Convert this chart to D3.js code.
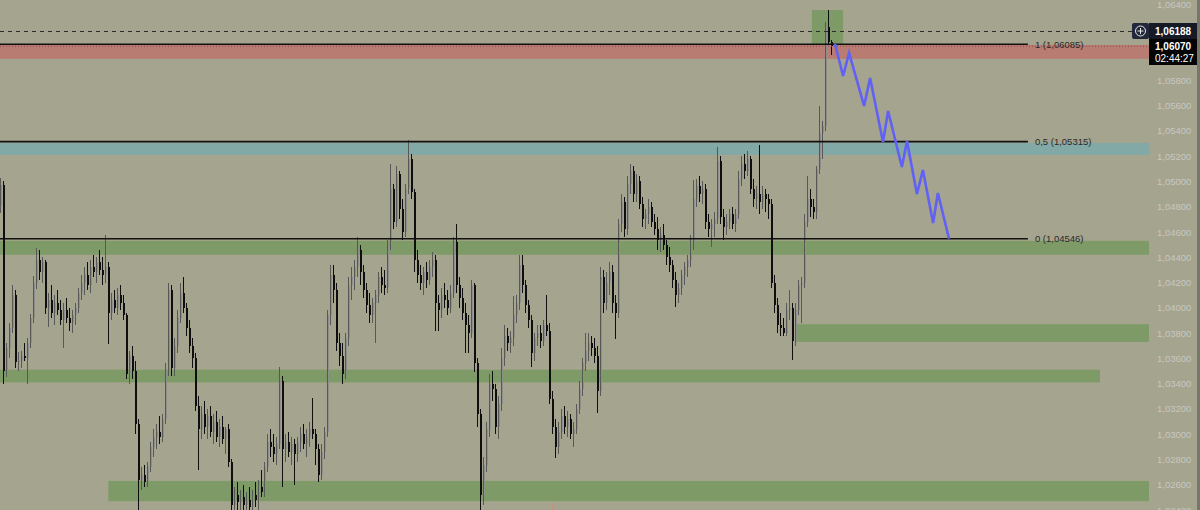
<!DOCTYPE html>
<html>
<head>
<meta charset="utf-8">
<script src="https://cdn.jsdelivr.net/npm/d3@7"></script>
<style>
  body { margin: 0; background: #a5a48e; }
  svg { display: block; }
</style>
</head>
<body>
<svg id="chart"></svg>
<script>
const WIDTH = 1200;
const HEIGHT = 510;
const PLOT_RIGHT = 1149;
const FONT = "'Liberation Sans', Arial, sans-serif";

const priceTicks = [1.064, 1.062, 1.060, 1.058, 1.056, 1.054, 1.052, 1.050, 1.048, 1.046, 1.044,
                    1.042, 1.040, 1.038, 1.036, 1.034, 1.032, 1.030, 1.028, 1.026, 1.024];

const opens = [
  1.0481,1.0497,1.0350,1.0368,1.0384,1.0410,1.0357,1.0358,1.0362,1.0360,
  1.0372,1.0392,1.0420,1.0438,1.0428,1.0436,1.0400,1.0406,1.0396,1.0404,
  1.0398,1.0390,1.0398,1.0392,1.0388,1.0394,1.0400,1.0412,1.0420,1.0426,
  1.0418,1.0432,1.0428,1.0436,1.0430,1.0426,1.0432,1.0396,1.0406,1.0400,
  1.0410,1.0404,1.0394,1.0348,1.0362,1.0350,1.0308,1.0264,1.0268,1.0262,
  1.0274,1.0290,1.0298,1.0302,1.0298,1.0312,1.0350,1.0414,1.0352,1.0370,
  1.0392,1.0412,1.0400,1.0384,1.0370,1.0360,1.0322,1.0304,1.0316,1.0306,
  1.0314,1.0302,1.0310,1.0298,1.0306,1.0296,1.0304,1.0278,1.0244,1.0252,
  1.0246,1.0250,1.0244,1.0248,1.0242,1.0252,1.0248,1.0258,1.0254,1.0274,
  1.0294,1.0290,1.0284,1.0292,1.0342,1.0288,1.0294,1.0286,1.0292,1.0284,
  1.0294,1.0300,1.0292,1.0298,1.0304,1.0300,1.0288,1.0268,1.0286,1.0302,
  1.0394,1.0426,1.0414,1.0372,1.0362,1.0348,1.0376,1.0418,1.0424,1.0432,
  1.0446,1.0428,1.0414,1.0402,1.0394,1.0404,1.0410,1.0424,1.0418,1.0416,
  1.0450,1.0494,1.0468,1.0506,1.0478,1.0460,1.0494,1.0518,1.0492,1.0438,
  1.0426,1.0420,1.0428,1.0422,1.0432,1.0438,1.0404,1.0398,1.0410,1.0406,
  1.0400,1.0412,1.0452,1.0418,1.0408,1.0396,1.0386,1.0380,1.0418,1.0356,
  1.0316,1.0252,1.0276,1.0304,1.0340,1.0336,1.0306,1.0324,1.0360,1.0378,
  1.0372,1.0376,1.0394,1.0404,1.0434,1.0418,1.0402,1.0390,1.0364,1.0376,
  1.0380,1.0374,1.0386,1.0382,1.0328,1.0306,1.0290,1.0302,1.0314,1.0306,
  1.0312,1.0300,1.0304,1.0320,1.0336,1.0356,1.0366,1.0372,1.0368,1.0362,
  1.0334,1.0424,1.0404,1.0420,1.0428,1.0404,1.0396,1.0466,1.0484,1.0462,
  1.0498,1.0508,1.0490,1.0500,1.0482,1.0470,1.0474,1.0480,1.0468,1.0462,
  1.0454,1.0458,1.0450,1.0440,1.0434,1.0422,1.0410,1.0416,1.0426,1.0432,
  1.0438,1.0452,1.0486,1.0496,1.0490,1.0494,1.0468,1.0462,1.0466,1.0470,
  1.0516,1.0472,1.0464,1.0468,1.0474,1.0466,1.0474,1.0502,1.0514,1.0508,
  1.0518,1.0494,1.0486,1.0490,1.0484,1.0490,1.0486,1.0482,1.0420,1.0402,
  1.0386,1.0384,1.0380,1.0398,1.0400,1.0374,1.0398,1.0418,1.0420,1.0468,
  1.0486,1.0480,1.0476,1.0510,1.0538,1.0544,1.0622,1.0610
];

const highs = [
  1.0503,1.0500,1.0372,1.0388,1.0418,1.0414,1.0365,1.0366,1.0372,1.0376,
  1.0395,1.0425,1.0447,1.0446,1.0440,1.0438,1.0412,1.0418,1.0410,1.0414,
  1.0406,1.0404,1.0408,1.0400,1.0398,1.0404,1.0416,1.0426,1.0432,1.0436,
  1.0438,1.0442,1.0440,1.0446,1.0440,1.0458,1.0436,1.0412,1.0414,1.0416,
  1.0418,1.0410,1.0396,1.0366,1.0370,1.0358,1.0312,1.0274,1.0276,1.0278,
  1.0294,1.0304,1.0308,1.0314,1.0316,1.0356,1.0420,1.0418,1.0376,1.0398,
  1.0420,1.0424,1.0404,1.0390,1.0376,1.0364,1.0330,1.0322,1.0326,1.0320,
  1.0322,1.0316,1.0318,1.0312,1.0314,1.0306,1.0308,1.0280,1.0258,1.0262,
  1.0256,1.0260,1.0254,1.0258,1.0256,1.0262,1.0264,1.0272,1.0278,1.0300,
  1.0304,1.0300,1.0298,1.0353,1.0346,1.0300,1.0302,1.0298,1.0296,1.0298,
  1.0306,1.0308,1.0304,1.0310,1.0329,1.0304,1.0292,1.0292,1.0306,1.0398,
  1.0434,1.0434,1.0420,1.0380,1.0372,1.0380,1.0424,1.0432,1.0438,1.0456,
  1.0450,1.0434,1.0420,1.0412,1.0408,1.0414,1.0428,1.0432,1.0430,1.0454,
  1.0514,1.0498,1.0512,1.0508,1.0486,1.0498,1.0533,1.0522,1.0494,1.0446,
  1.0434,1.0432,1.0436,1.0438,1.0444,1.0442,1.0410,1.0416,1.0420,1.0414,
  1.0418,1.0456,1.0466,1.0424,1.0416,1.0404,1.0394,1.0422,1.0420,1.0360,
  1.0320,1.0282,1.0310,1.0348,1.0350,1.0340,1.0330,1.0368,1.0386,1.0384,
  1.0382,1.0409,1.0410,1.0442,1.0442,1.0422,1.0406,1.0394,1.0380,1.0386,
  1.0386,1.0390,1.0410,1.0388,1.0334,1.0312,1.0310,1.0320,1.0322,1.0318,
  1.0316,1.0310,1.0324,1.0342,1.0360,1.0380,1.0380,1.0378,1.0376,1.0370,
  1.0432,1.0430,1.0428,1.0436,1.0434,1.0410,1.0470,1.0490,1.0488,1.0504,
  1.0514,1.0512,1.0506,1.0504,1.0488,1.0478,1.0486,1.0484,1.0474,1.0472,
  1.0464,1.0466,1.0454,1.0448,1.0438,1.0428,1.0420,1.0430,1.0436,1.0442,
  1.0458,1.0501,1.0502,1.0504,1.0500,1.0498,1.0474,1.0470,1.0476,1.0527,
  1.0520,1.0478,1.0474,1.0478,1.0480,1.0478,1.0508,1.0520,1.0522,1.0524,
  1.0520,1.0502,1.0496,1.0529,1.0496,1.0494,1.0490,1.0486,1.0426,1.0408,
  1.0396,1.0392,1.0404,1.0414,1.0404,1.0404,1.0422,1.0424,1.0474,1.0504,
  1.0494,1.0486,1.0512,1.0560,1.0548,1.0626,1.0636,1.0612
];

const lows = [
  1.0475,1.0340,1.0345,1.0360,1.0380,1.0352,1.0350,1.0352,1.0358,1.0340,
  1.0368,1.0388,1.0415,1.0422,1.0420,1.0395,1.0385,1.0392,1.0386,1.0394,
  1.0386,1.0368,1.0388,1.0382,1.0380,1.0386,1.0396,1.0406,1.0410,1.0414,
  1.0412,1.0424,1.0420,1.0426,1.0418,1.0420,1.0371,1.0390,1.0396,1.0394,
  1.0398,1.0390,1.0344,1.0340,1.0344,1.0300,1.0238,1.0256,1.0258,1.0258,
  1.0270,1.0282,1.0288,1.0292,1.0294,1.0308,1.0346,1.0346,1.0346,1.0364,
  1.0388,1.0396,1.0378,1.0364,1.0352,1.0318,1.0272,1.0296,1.0300,1.0296,
  1.0298,1.0292,1.0294,1.0290,1.0292,1.0284,1.0274,1.0236,1.0236,1.0240,
  1.0236,1.0240,1.0232,1.0238,1.0236,1.0242,1.0240,1.0250,1.0250,1.0270,
  1.0282,1.0278,1.0276,1.0288,1.0258,1.0278,1.0282,1.0276,1.0260,1.0278,
  1.0286,1.0288,1.0282,1.0290,1.0296,1.0276,1.0262,1.0264,1.0280,1.0298,
  1.0386,1.0404,1.0366,1.0354,1.0340,1.0344,1.0370,1.0406,1.0414,1.0424,
  1.0418,1.0408,1.0396,1.0388,1.0388,1.0372,1.0404,1.0412,1.0410,1.0412,
  1.0446,1.0462,1.0464,1.0470,1.0454,1.0456,1.0490,1.0486,1.0428,1.0420,
  1.0414,1.0410,1.0416,1.0418,1.0424,1.0382,1.0382,1.0392,1.0400,1.0394,
  1.0396,1.0408,1.0412,1.0400,1.0390,1.0364,1.0364,1.0376,1.0349,1.0306,
  1.0240,1.0244,1.0270,1.0298,1.0326,1.0300,1.0296,1.0318,1.0354,1.0366,
  1.0364,1.0370,1.0388,1.0398,1.0412,1.0396,1.0384,1.0353,1.0358,1.0370,
  1.0368,1.0370,1.0378,1.0324,1.0300,1.0281,1.0284,1.0296,1.0300,1.0298,
  1.0296,1.0290,1.0300,1.0316,1.0330,1.0350,1.0358,1.0362,1.0356,1.0317,
  1.0330,1.0396,1.0398,1.0410,1.0396,1.0375,1.0392,1.0460,1.0456,1.0458,
  1.0490,1.0484,1.0484,1.0478,1.0464,1.0462,1.0466,1.0464,1.0458,1.0446,
  1.0444,1.0446,1.0434,1.0428,1.0416,1.0401,1.0404,1.0410,1.0418,1.0424,
  1.0432,1.0446,1.0480,1.0484,1.0482,1.0462,1.0456,1.0448,1.0456,1.0466,
  1.0466,1.0454,1.0458,1.0462,1.0462,1.0460,1.0470,1.0496,1.0502,1.0504,
  1.0490,1.0480,1.0478,1.0474,1.0478,1.0476,1.0470,1.0416,1.0396,1.0380,
  1.0378,1.0378,1.0378,1.0390,1.0359,1.0370,1.0394,1.0388,1.0416,1.0464,
  1.0472,1.0470,1.0470,1.0506,1.0518,1.0540,1.0608,1.0600
];

const closes = [
  1.0497,1.0350,1.0368,1.0384,1.0410,1.0357,1.0358,1.0362,1.0360,1.0372,
  1.0392,1.0420,1.0438,1.0428,1.0436,1.0400,1.0406,1.0396,1.0404,1.0398,
  1.0390,1.0398,1.0392,1.0388,1.0394,1.0400,1.0412,1.0420,1.0426,1.0418,
  1.0432,1.0428,1.0436,1.0430,1.0426,1.0432,1.0396,1.0406,1.0400,1.0410,
  1.0404,1.0394,1.0348,1.0362,1.0350,1.0308,1.0264,1.0268,1.0262,1.0274,
  1.0290,1.0298,1.0302,1.0298,1.0312,1.0350,1.0414,1.0352,1.0370,1.0392,
  1.0412,1.0400,1.0384,1.0370,1.0360,1.0322,1.0304,1.0316,1.0306,1.0314,
  1.0302,1.0310,1.0298,1.0306,1.0296,1.0304,1.0278,1.0244,1.0252,1.0246,
  1.0250,1.0244,1.0248,1.0242,1.0252,1.0248,1.0258,1.0254,1.0274,1.0294,
  1.0290,1.0284,1.0292,1.0342,1.0288,1.0294,1.0286,1.0292,1.0284,1.0294,
  1.0300,1.0292,1.0298,1.0304,1.0300,1.0288,1.0268,1.0286,1.0302,1.0394,
  1.0426,1.0414,1.0372,1.0362,1.0348,1.0376,1.0418,1.0424,1.0432,1.0446,
  1.0428,1.0414,1.0402,1.0394,1.0404,1.0410,1.0424,1.0418,1.0416,1.0450,
  1.0494,1.0468,1.0506,1.0478,1.0460,1.0494,1.0518,1.0492,1.0438,1.0426,
  1.0420,1.0428,1.0422,1.0432,1.0438,1.0404,1.0398,1.0410,1.0406,1.0400,
  1.0412,1.0452,1.0418,1.0408,1.0396,1.0386,1.0380,1.0418,1.0356,1.0316,
  1.0252,1.0276,1.0304,1.0340,1.0336,1.0306,1.0324,1.0360,1.0378,1.0372,
  1.0376,1.0394,1.0404,1.0434,1.0418,1.0402,1.0390,1.0364,1.0376,1.0380,
  1.0374,1.0386,1.0382,1.0328,1.0306,1.0290,1.0302,1.0314,1.0306,1.0312,
  1.0300,1.0304,1.0320,1.0336,1.0356,1.0366,1.0372,1.0368,1.0362,1.0334,
  1.0424,1.0404,1.0420,1.0428,1.0404,1.0396,1.0466,1.0484,1.0462,1.0498,
  1.0508,1.0490,1.0500,1.0482,1.0470,1.0474,1.0480,1.0468,1.0462,1.0454,
  1.0458,1.0450,1.0440,1.0434,1.0422,1.0410,1.0416,1.0426,1.0432,1.0438,
  1.0452,1.0486,1.0496,1.0490,1.0494,1.0468,1.0462,1.0466,1.0470,1.0516,
  1.0472,1.0464,1.0468,1.0474,1.0466,1.0474,1.0502,1.0514,1.0508,1.0518,
  1.0494,1.0486,1.0490,1.0484,1.0490,1.0486,1.0482,1.0420,1.0402,1.0386,
  1.0384,1.0380,1.0398,1.0400,1.0374,1.0398,1.0418,1.0420,1.0468,1.0486,
  1.0480,1.0476,1.0510,1.0538,1.0544,1.0622,1.0610,1.0607
];

// fib retracement drawn over the last leg
const fibLevels = [1, 0.5, 0];
const fibPrices = [1.06085, 1.05315, 1.04546];
const fibEndBar = 342.3;

// zones: [low, high, fromBar, toBar]  (null = runs to the price scale)
const supplyZones = [[1.0597, 1.0608, -1, null]];
const midZones = [[1.0521, 1.05305, -1, null]];
const demandZones = [
  [1.0442, 1.0453, -1, null],
  [1.0373, 1.0387, 264.7, null],
  [1.0341, 1.0351, -1, 366.3],
  [1.0247, 1.0263, 35.8, null],
  [1.0608, 1.06356, 270.3, 280.7]
];

// projected path
const zigBars = [278, 280.7, 282.7, 287.7, 289.7, 294, 295.7, 300.3, 302, 305.3, 307.3, 310.7, 312.3, 316];
const zigPrices = [1.06087, 1.05834, 1.06016, 1.05597, 1.05818, 1.05312, 1.05557, 1.05114,
                   1.05320, 1.04900, 1.05090, 1.04671, 1.04908, 1.04546];

const dayHigh = 1.06188;
const lastPrice = 1.06070;
const countdown = "02:44:27";
const sessionMarks = [184];

const fmtPrice = v => d3.format(".5f")(v).replace(".", ",");

function main(){
    var svg = d3.select("#chart")
        .attr("width", WIDTH)
        .attr("height", HEIGHT)
        .style("font-family", FONT);

    var x = d3.scaleLinear().domain([0, 383]).range([1, 1150]);
    var y = d3.scaleLinear().domain([1.024, 1.064]).range([510, 4.5]);

    svg.append("rect").attr("width", WIDTH).attr("height", HEIGHT).attr("fill", "#a5a48e");

    var xEnd = d => d == null ? PLOT_RIGHT : x(d);
    var drawZones = (data, color) => {
        svg.append("g").selectAll("rect")
            .data(data)
            .join("rect")
            .attr("x", d => x(d[2]))
            .attr("width", d => xEnd(d[3]) - x(d[2]))
            .attr("y", d => y(d[1]))
            .attr("height", d => y(d[0]) - y(d[1]))
            .attr("fill", color);
    };
    drawZones(supplyZones, "#b87c73");
    drawZones(midZones, "#83a9a7");
    drawZones(demandZones, "#7e9a67");

    // candles: body first, wick on top so grey bodies get a dark edge
    var bars = closes.map((c, i) => ({i: i, o: opens[i], h: highs[i], l: lows[i], c: c}));
    var up = d => d.c >= d.o;
    var cg = svg.append("g").attr("shape-rendering", "crispEdges");
    cg.selectAll("rect.body")
        .data(bars)
        .join("rect")
        .attr("class", "body")
        .attr("x", d => x(d.i) - 1)
        .attr("width", 2)
        .attr("y", d => y(Math.max(d.o, d.c)))
        .attr("height", d => Math.max(1, Math.abs(y(d.o) - y(d.c))))
        .attr("fill", d => up(d) ? "#8e8e8e" : "#0e0e0e");
    cg.selectAll("rect.wick")
        .data(bars)
        .join("rect")
        .attr("class", "wick")
        .attr("x", d => x(d.i) - 1)
        .attr("width", 1)
        .attr("y", d => y(d.h))
        .attr("height", d => Math.max(1, y(d.l) - y(d.h)))
        .attr("fill", d => up(d) ? "#585858" : "#0e0e0e");

    // session marks
    svg.append("g").selectAll("line")
        .data(sessionMarks)
        .join("line")
        .attr("x1", d => x(d)).attr("x2", d => x(d))
        .attr("y1", 503).attr("y2", HEIGHT)
        .attr("stroke", "#e2806f").attr("stroke-width", 1);

    // last price dotted & high dashed
    svg.append("line")
        .attr("x1", 0).attr("x2", PLOT_RIGHT)
        .attr("y1", y(lastPrice)).attr("y2", y(lastPrice))
        .attr("stroke", "#8e4a48").attr("stroke-width", 1).attr("stroke-dasharray", "1,2");
    svg.append("line")
        .attr("x1", 0).attr("x2", 1132)
        .attr("y1", Math.round(y(dayHigh)) + 0.5).attr("y2", Math.round(y(dayHigh)) + 0.5)
        .attr("stroke", "#2b2b2b").attr("stroke-width", 1).attr("stroke-dasharray", "4,4");

    // fib lines
    var fg = svg.append("g");
    fg.selectAll("line")
        .data(fibPrices)
        .join("line")
        .attr("x1", 0).attr("x2", x(fibEndBar))
        .attr("y1", d => y(d)).attr("y2", d => y(d))
        .attr("stroke", "#111").attr("stroke-width", 1.6);
    fg.selectAll("text")
        .data(fibPrices)
        .join("text")
        .attr("x", x(fibEndBar) + 7)
        .attr("y", d => y(d))
        .attr("dy", "0.35em")
        .attr("font-size", 9.5)
        .attr("fill", "#2a2a2a")
        .text((d, i) => String(fibLevels[i]).replace(".", ",") + " (" + fmtPrice(d) + ")");

    // projection
    var line = d3.line().x(d => x(d[0])).y(d => y(d[1]));
    svg.append("path")
        .datum(zigBars.map((b, i) => [b, zigPrices[i]]))
        .attr("d", line)
        .attr("fill", "none")
        .attr("stroke", "#6161f5")
        .attr("stroke-width", 2.6)
        .attr("stroke-linejoin", "miter");

    // price scale (labels under the price tags are hidden, as the terminal does)
    var hy = Math.round(y(dayHigh));
    var tagTop = hy - 8, tagBottom = hy + 34;
    var axis = d3.axisRight(y)
        .tickValues(priceTicks.filter(v => y(v) < tagTop - 4 || y(v) > tagBottom + 4))
        .tickSize(0)
        .tickPadding(0)
        .tickFormat(fmtPrice);
    var ag = svg.append("g")
        .attr("transform", "translate(1157,0)")
        .call(axis);
    ag.select(".domain").remove();
    ag.selectAll("text")
        .attr("fill", "#c8c8c1")
        .attr("font-size", 9.5)
        .attr("font-family", FONT);

    svg.append("rect")
        .attr("x", 1197).attr("y", 0).attr("width", 3).attr("height", HEIGHT)
        .attr("fill", "#77766a");

    // price tags
    svg.append("rect").attr("x", 1132).attr("y", hy - 8).attr("width", 17).attr("height", 16)
        .attr("fill", "#22263a").attr("rx", 2);
    svg.append("circle").attr("cx", 1140.5).attr("cy", hy).attr("r", 5)
        .attr("fill", "none").attr("stroke", "#e6e6e6").attr("stroke-width", 1);
    svg.append("path").attr("d", `M1137.5,${hy}H1143.5M1140.5,${hy - 3}V${hy + 3}`)
        .attr("stroke", "#e6e6e6").attr("stroke-width", 1);

    svg.append("rect").attr("x", 1149).attr("y", hy - 8).attr("width", 48).attr("height", 16)
        .attr("fill", "#161a26");
    svg.append("text").attr("x", 1155).attr("y", hy).attr("dy", "0.35em")
        .attr("fill", "#fff").attr("font-size", 10).attr("font-weight", "bold")
        .text(fmtPrice(dayHigh));

    svg.append("rect").attr("x", 1149).attr("y", hy + 8).attr("width", 48).attr("height", 26)
        .attr("fill", "#050505");
    svg.append("text").attr("x", 1155).attr("y", hy + 15).attr("dy", "0.35em")
        .attr("fill", "#fff").attr("font-size", 10).attr("font-weight", "bold")
        .text(fmtPrice(lastPrice));
    svg.append("text").attr("x", 1155).attr("y", hy + 27).attr("dy", "0.35em")
        .attr("fill", "#fff").attr("font-size", 10)
        .text(countdown);
}

main();
</script>
</body>
</html>
